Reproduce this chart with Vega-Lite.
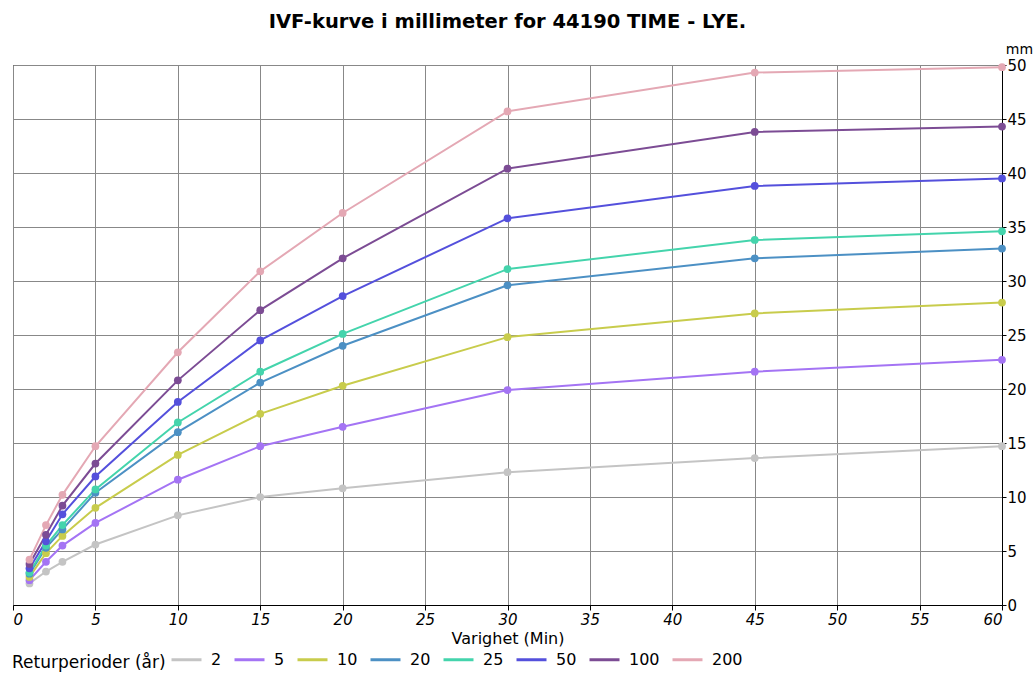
{
  "$schema": "https://vega.github.io/schema/vega-lite/v6.json",
  "autosize": "none",
  "width": 989,
  "height": 540,
  "padding": {"left": 13, "top": 65, "right": 33, "bottom": 68},
  "background": "white",
  "config": {
    "font": "DejaVu Sans",
    "view": {"stroke": "black", "strokeWidth": 1}
  },
  "title": {
    "text": "IVF-kurve i millimeter for 44190 TIME - LYE.",
    "font": "DejaVu Sans",
    "fontSize": 19.5,
    "fontWeight": "bold",
    "color": "black",
    "anchor": "middle",
    "offset": 10
  },
  "data": {
    "values": [
      {"d": 1, "rp": "2", "v": 2.0}, {"d": 2, "rp": "2", "v": 3.1}, {"d": 3, "rp": "2", "v": 4.0}, {"d": 5, "rp": "2", "v": 5.6}, {"d": 10, "rp": "2", "v": 8.3}, {"d": 15, "rp": "2", "v": 10.0}, {"d": 20, "rp": "2", "v": 10.8}, {"d": 30, "rp": "2", "v": 12.3}, {"d": 45, "rp": "2", "v": 13.6}, {"d": 60, "rp": "2", "v": 14.7},
      {"d": 1, "rp": "5", "v": 2.3}, {"d": 2, "rp": "5", "v": 4.0}, {"d": 3, "rp": "5", "v": 5.5}, {"d": 5, "rp": "5", "v": 7.6}, {"d": 10, "rp": "5", "v": 11.6}, {"d": 15, "rp": "5", "v": 14.7}, {"d": 20, "rp": "5", "v": 16.5}, {"d": 30, "rp": "5", "v": 19.9}, {"d": 45, "rp": "5", "v": 21.6}, {"d": 60, "rp": "5", "v": 22.7},
      {"d": 1, "rp": "10", "v": 2.6}, {"d": 2, "rp": "10", "v": 4.8}, {"d": 3, "rp": "10", "v": 6.4}, {"d": 5, "rp": "10", "v": 9.0}, {"d": 10, "rp": "10", "v": 13.9}, {"d": 15, "rp": "10", "v": 17.7}, {"d": 20, "rp": "10", "v": 20.3}, {"d": 30, "rp": "10", "v": 24.8}, {"d": 45, "rp": "10", "v": 27.0}, {"d": 60, "rp": "10", "v": 28.0},
      {"d": 1, "rp": "20", "v": 2.9}, {"d": 2, "rp": "20", "v": 5.3}, {"d": 3, "rp": "20", "v": 7.0}, {"d": 5, "rp": "20", "v": 10.4}, {"d": 10, "rp": "20", "v": 16.0}, {"d": 15, "rp": "20", "v": 20.6}, {"d": 20, "rp": "20", "v": 24.0}, {"d": 30, "rp": "20", "v": 29.6}, {"d": 45, "rp": "20", "v": 32.1}, {"d": 60, "rp": "20", "v": 33.0},
      {"d": 1, "rp": "25", "v": 3.0}, {"d": 2, "rp": "25", "v": 5.5}, {"d": 3, "rp": "25", "v": 7.4}, {"d": 5, "rp": "25", "v": 10.7}, {"d": 10, "rp": "25", "v": 16.9}, {"d": 15, "rp": "25", "v": 21.6}, {"d": 20, "rp": "25", "v": 25.1}, {"d": 30, "rp": "25", "v": 31.1}, {"d": 45, "rp": "25", "v": 33.8}, {"d": 60, "rp": "25", "v": 34.6},
      {"d": 1, "rp": "50", "v": 3.4}, {"d": 2, "rp": "50", "v": 5.9}, {"d": 3, "rp": "50", "v": 8.4}, {"d": 5, "rp": "50", "v": 11.9}, {"d": 10, "rp": "50", "v": 18.8}, {"d": 15, "rp": "50", "v": 24.5}, {"d": 20, "rp": "50", "v": 28.6}, {"d": 30, "rp": "50", "v": 35.8}, {"d": 45, "rp": "50", "v": 38.8}, {"d": 60, "rp": "50", "v": 39.5},
      {"d": 1, "rp": "100", "v": 3.8}, {"d": 2, "rp": "100", "v": 6.5}, {"d": 3, "rp": "100", "v": 9.2}, {"d": 5, "rp": "100", "v": 13.1}, {"d": 10, "rp": "100", "v": 20.8}, {"d": 15, "rp": "100", "v": 27.3}, {"d": 20, "rp": "100", "v": 32.1}, {"d": 30, "rp": "100", "v": 40.4}, {"d": 45, "rp": "100", "v": 43.8}, {"d": 60, "rp": "100", "v": 44.3},
      {"d": 1, "rp": "200", "v": 4.2}, {"d": 2, "rp": "200", "v": 7.4}, {"d": 3, "rp": "200", "v": 10.2}, {"d": 5, "rp": "200", "v": 14.7}, {"d": 10, "rp": "200", "v": 23.4}, {"d": 15, "rp": "200", "v": 30.9}, {"d": 20, "rp": "200", "v": 36.3}, {"d": 30, "rp": "200", "v": 45.7}, {"d": 45, "rp": "200", "v": 49.3}, {"d": 60, "rp": "200", "v": 49.8}
    ]
  },
  "mark": {"type": "line", "strokeWidth": 2, "point": {"filled": true, "size": 60, "opacity": 1}},
  "encoding": {
    "x": {
      "field": "d", "type": "quantitative",
      "scale": {"domain": [0, 60], "nice": false, "zero": false},
      "axis": {
        "values": [0, 5, 10, 15, 20, 25, 30, 35, 40, 45, 50, 55, 60],
        "title": "Varighet  (Min)",
        "titleFont": "DejaVu Sans", "titleFontSize": 16, "titleFontWeight": "normal", "titleColor": "black",
        "titlePadding": 3,
        "labelFont": "DejaVu Sans", "labelFontSize": 15, "labelFontStyle": "italic", "labelColor": "black",
        "labelPadding": 2,
        "domainColor": "black", "tickColor": "black", "tickSize": 5,
        "grid": true, "gridColor": "#888888", "gridWidth": 1
      }
    },
    "y": {
      "field": "v", "type": "quantitative",
      "scale": {"domain": [0, 50], "nice": false},
      "axis": {
        "orient": "right",
        "values": [0, 5, 10, 15, 20, 25, 30, 35, 40, 45, 50],
        "title": "mm",
        "titleAngle": 0, "titleX": 17, "titleY": -9, "titleAlign": "center", "titleBaseline": "bottom",
        "titleFont": "DejaVu Sans", "titleFontSize": 14, "titleFontWeight": "normal", "titleColor": "black",
        "labelFont": "DejaVu Sans", "labelFontSize": 15, "labelColor": "black", "labelPadding": 1,
        "domainColor": "black", "tickColor": "black", "tickSize": 4,
        "grid": true, "gridColor": "#888888", "gridWidth": 1
      }
    },
    "color": {
      "field": "rp", "type": "nominal",
      "sort": ["2", "5", "10", "20", "25", "50", "100", "200"],
      "scale": {
        "domain": ["2", "5", "10", "20", "25", "50", "100", "200"],
        "range": ["#c4c4c4", "#a474f4", "#c8cc4c", "#4c90c4", "#44d4ac", "#5450dc", "#7c4c94", "#e4a8b4"]
      },
      "legend": {
        "orient": "none",
        "legendX": -1,
        "legendY": 578,
        "direction": "horizontal",
        "title": "Returperioder (år)",
        "titleOrient": "left",
        "titleAnchor": "middle",
        "titleBaseline": "top",
        "titleFont": "DejaVu Sans", "titleFontSize": 17, "titleFontWeight": "normal", "titleColor": "black",
        "titlePadding": 4,
        "labelFont": "DejaVu Sans", "labelFontSize": 16, "labelColor": "black",
        "symbolType": "stroke", "symbolStrokeWidth": 3, "symbolSize": 900,
        "columnPadding": 6, "labelOffset": 8
      }
    }
  }
}
